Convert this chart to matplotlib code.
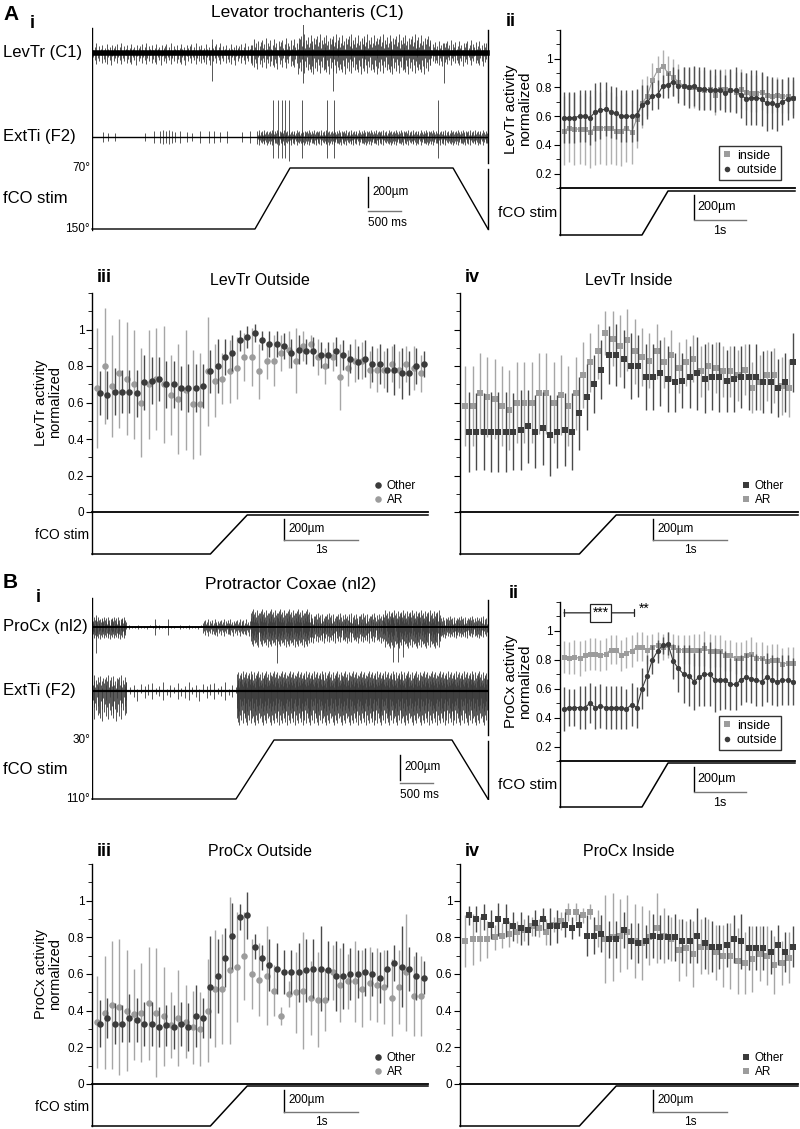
import numpy as np
import matplotlib
matplotlib.use('Agg')
import matplotlib.pyplot as plt
from matplotlib.lines import Line2D

plt.rcParams['font.family'] = ['Liberation Sans', 'DejaVu Sans']

# ---------------- data ----------------
# A iii  LevTr outside (Other = dark circles, AR = light circles)
levout_other = [0.65, 0.64, 0.66, 0.66, 0.66, 0.65, 0.71, 0.72, 0.73, 0.70,
                0.70, 0.68, 0.68, 0.68, 0.69, 0.77, 0.80, 0.85, 0.87, 0.94,
                0.96, 0.98, 0.94, 0.92, 0.92, 0.91, 0.87, 0.89, 0.88, 0.88,
                0.86, 0.86, 0.88, 0.86, 0.84, 0.82, 0.84, 0.81, 0.81, 0.78,
                0.78, 0.76, 0.76, 0.80, 0.81]
levout_other_err = [0.12, 0.13, 0.13, 0.12, 0.12, 0.13, 0.15, 0.13, 0.12, 0.13,
                    0.13, 0.12, 0.13, 0.13, 0.12, 0.12, 0.15, 0.10, 0.10, 0.06,
                    0.06, 0.05, 0.05, 0.07, 0.07, 0.07, 0.08, 0.08, 0.07, 0.08,
                    0.07, 0.07, 0.08, 0.08, 0.08, 0.09, 0.10, 0.10, 0.11, 0.12,
                    0.14, 0.14, 0.12, 0.10, 0.07]
levout_ar = [0.68, 0.80, 0.69, 0.76, 0.73, 0.70, 0.60, 0.70, 0.73, 0.70,
             0.64, 0.62, 0.67, 0.59, 0.59, 0.77, 0.72, 0.73, 0.77, 0.79,
             0.85, 0.85, 0.77, 0.83, 0.83, 0.87, 0.89, 0.83, 0.91, 0.92,
             0.85, 0.80, 0.85, 0.74, 0.79, 0.83, 0.83, 0.78, 0.78, 0.78,
             0.81, 0.78, 0.81, 0.79, 0.76]
levout_ar_err = [0.33, 0.32, 0.28, 0.30, 0.31, 0.30, 0.30, 0.30, 0.28, 0.32,
                 0.22, 0.30, 0.33, 0.30, 0.28, 0.30, 0.20, 0.14, 0.17, 0.17,
                 0.13, 0.16, 0.15, 0.10, 0.14, 0.10, 0.10, 0.18, 0.08, 0.05,
                 0.10, 0.10, 0.08, 0.18, 0.10, 0.12, 0.10, 0.10, 0.12, 0.10,
                 0.10, 0.10, 0.10, 0.12, 0.10]

# A iv  LevTr inside (squares)
levin_other = [0.44, 0.44, 0.44, 0.44, 0.44, 0.44, 0.44, 0.45, 0.47, 0.44,
               0.46, 0.42, 0.44, 0.45, 0.44, 0.54, 0.63, 0.70, 0.78, 0.86,
               0.86, 0.84, 0.80, 0.80, 0.74, 0.74, 0.76, 0.73, 0.71, 0.72,
               0.74, 0.76, 0.73, 0.74, 0.74, 0.72, 0.73, 0.74, 0.74, 0.74,
               0.71, 0.71, 0.68, 0.71, 0.82]
levin_other_err = [0.22, 0.21, 0.21, 0.22, 0.22, 0.22, 0.21, 0.22, 0.20, 0.20,
                   0.20, 0.22, 0.20, 0.20, 0.21, 0.20, 0.18, 0.16, 0.16, 0.16,
                   0.17, 0.16, 0.18, 0.17, 0.18, 0.18, 0.18, 0.18, 0.16, 0.15,
                   0.17, 0.20, 0.19, 0.18, 0.19, 0.17, 0.18, 0.17, 0.18, 0.18,
                   0.17, 0.17, 0.16, 0.16, 0.16]
levin_ar = [0.58, 0.58, 0.65, 0.63, 0.62, 0.58, 0.56, 0.60, 0.60, 0.60,
            0.65, 0.65, 0.60, 0.64, 0.58, 0.65, 0.75, 0.82, 0.88, 0.98,
            0.95, 0.91, 0.94, 0.88, 0.85, 0.83, 0.88, 0.82, 0.86, 0.79,
            0.82, 0.84, 0.77, 0.80, 0.79, 0.77, 0.77, 0.75, 0.78, 0.68,
            0.71, 0.75, 0.75, 0.69, 0.68]
levin_ar_err = [0.22, 0.22, 0.22, 0.22, 0.22, 0.22, 0.22, 0.22, 0.22, 0.22,
                0.22, 0.22, 0.22, 0.22, 0.22, 0.20, 0.18, 0.16, 0.15, 0.12,
                0.15, 0.17, 0.17, 0.18, 0.16, 0.15, 0.15, 0.14, 0.14, 0.14,
                0.13, 0.13, 0.14, 0.13, 0.14, 0.14, 0.14, 0.14, 0.14, 0.14,
                0.15, 0.14, 0.15, 0.16, 0.16]

# B iii  ProCx outside
proout_other = [0.33, 0.36, 0.33, 0.33, 0.36, 0.35, 0.33, 0.33, 0.31, 0.32,
                0.31, 0.33, 0.31, 0.37, 0.36, 0.53, 0.59, 0.69, 0.81, 0.91,
                0.92, 0.75, 0.69, 0.65, 0.63, 0.61, 0.61, 0.61, 0.62, 0.63,
                0.63, 0.62, 0.59, 0.59, 0.60, 0.60, 0.61, 0.60, 0.58, 0.63,
                0.66, 0.64, 0.63, 0.59, 0.58]
proout_other_err = [0.13, 0.11, 0.11, 0.10, 0.13, 0.12, 0.12, 0.12, 0.11, 0.11,
                    0.12, 0.12, 0.13, 0.17, 0.11, 0.28, 0.20, 0.16, 0.18, 0.07,
                    0.13, 0.07, 0.07, 0.14, 0.14, 0.12, 0.12, 0.16, 0.17, 0.16,
                    0.23, 0.16, 0.19, 0.18, 0.14, 0.13, 0.13, 0.12, 0.14, 0.10,
                    0.10, 0.22, 0.12, 0.13, 0.09]
proout_ar = [0.34, 0.39, 0.43, 0.42, 0.40, 0.38, 0.39, 0.44, 0.39, 0.37,
             0.32, 0.36, 0.34, 0.31, 0.30, 0.40, 0.52, 0.52, 0.62, 0.64,
             0.70, 0.60, 0.57, 0.59, 0.51, 0.37, 0.49, 0.50, 0.51, 0.47,
             0.46, 0.46, 0.61, 0.54, 0.56, 0.56, 0.52, 0.55, 0.54, 0.53,
             0.47, 0.53, 0.61, 0.48, 0.48]
proout_ar_err = [0.25, 0.31, 0.35, 0.37, 0.33, 0.25, 0.27, 0.31, 0.35, 0.27,
                 0.18, 0.26, 0.20, 0.20, 0.20, 0.28, 0.32, 0.30, 0.40, 0.30,
                 0.24, 0.19, 0.20, 0.27, 0.14, 0.05, 0.07, 0.22, 0.32, 0.20,
                 0.26, 0.17, 0.15, 0.20, 0.15, 0.22, 0.21, 0.20, 0.20, 0.20,
                 0.21, 0.20, 0.32, 0.22, 0.22]

# B iv  ProCx inside
proin_other = [0.92, 0.90, 0.91, 0.87, 0.90, 0.89, 0.86, 0.85, 0.84, 0.88,
               0.90, 0.86, 0.86, 0.87, 0.85, 0.87, 0.81, 0.81, 0.82, 0.79,
               0.79, 0.84, 0.78, 0.77, 0.78, 0.81, 0.80, 0.80, 0.80, 0.78,
               0.78, 0.81, 0.77, 0.75, 0.75, 0.76, 0.79, 0.78, 0.74, 0.74,
               0.74, 0.72, 0.76, 0.72, 0.75]
proin_other_err = [0.05, 0.07, 0.07, 0.08, 0.09, 0.09, 0.08, 0.09, 0.08, 0.07,
                   0.06, 0.10, 0.09, 0.07, 0.06, 0.06, 0.11, 0.10, 0.10, 0.10,
                   0.10, 0.10, 0.10, 0.11, 0.09, 0.12, 0.12, 0.12, 0.13, 0.12,
                   0.12, 0.15, 0.14, 0.14, 0.12, 0.12, 0.13, 0.15, 0.12, 0.12,
                   0.12, 0.12, 0.11, 0.11, 0.11]
proin_ar = [0.78, 0.79, 0.79, 0.79, 0.80, 0.81, 0.82, 0.83, 0.84, 0.86,
            0.85, 0.83, 0.87, 0.89, 0.94, 0.94, 0.92, 0.94, 0.85, 0.79,
            0.80, 0.81, 0.83, 0.78, 0.77, 0.80, 0.85, 0.81, 0.79, 0.73,
            0.74, 0.71, 0.75, 0.75, 0.72, 0.70, 0.70, 0.67, 0.66, 0.68,
            0.71, 0.70, 0.65, 0.66, 0.69]
proin_ar_err = [0.14, 0.14, 0.12, 0.10, 0.07, 0.07, 0.07, 0.06, 0.06, 0.05,
                0.05, 0.07, 0.04, 0.05, 0.05, 0.05, 0.04, 0.04, 0.10, 0.24,
                0.24, 0.20, 0.20, 0.20, 0.20, 0.15, 0.19, 0.15, 0.12, 0.17,
                0.15, 0.18, 0.15, 0.15, 0.15, 0.17, 0.18, 0.18, 0.17, 0.18,
                0.15, 0.16, 0.16, 0.12, 0.14]

# A ii  LevTr inside / outside
levii_in = [0.50, 0.52, 0.51, 0.51, 0.51, 0.49, 0.52, 0.52, 0.52, 0.52,
            0.50, 0.50, 0.52, 0.49, 0.58, 0.69, 0.74, 0.85, 0.92, 0.95,
            0.90, 0.87, 0.84, 0.81, 0.80, 0.80, 0.79, 0.78, 0.79, 0.75,
            0.79, 0.79, 0.78, 0.77, 0.79, 0.77, 0.76, 0.76, 0.77, 0.75,
            0.74, 0.75, 0.74, 0.74, 0.73]
levii_in_err = [0.24, 0.24, 0.25, 0.24, 0.25, 0.25, 0.26, 0.25, 0.26, 0.25,
                0.24, 0.25, 0.24, 0.22, 0.20, 0.17, 0.14, 0.12, 0.10, 0.11,
                0.12, 0.13, 0.12, 0.13, 0.13, 0.14, 0.13, 0.14, 0.14, 0.14,
                0.14, 0.14, 0.14, 0.14, 0.14, 0.13, 0.13, 0.13, 0.13, 0.13,
                0.12, 0.12, 0.12, 0.12, 0.12]
levii_out = [0.59, 0.59, 0.59, 0.60, 0.60, 0.59, 0.63, 0.64, 0.65, 0.63,
             0.62, 0.60, 0.60, 0.60, 0.61, 0.68, 0.70, 0.74, 0.75, 0.81,
             0.82, 0.84, 0.81, 0.81, 0.80, 0.81, 0.79, 0.79, 0.78, 0.78,
             0.78, 0.76, 0.78, 0.78, 0.75, 0.72, 0.73, 0.73, 0.72, 0.69,
             0.69, 0.68, 0.70, 0.72, 0.73]
levii_out_err = [0.18, 0.18, 0.18, 0.18, 0.18, 0.19, 0.20, 0.20, 0.19, 0.18,
                 0.18, 0.18, 0.18, 0.18, 0.18, 0.14, 0.12, 0.10, 0.10, 0.08,
                 0.09, 0.10, 0.12, 0.13, 0.14, 0.14, 0.15, 0.15, 0.14, 0.15,
                 0.14, 0.13, 0.15, 0.16, 0.16, 0.18, 0.19, 0.19, 0.19, 0.19,
                 0.18, 0.18, 0.16, 0.15, 0.14]

# B ii  ProCx inside / outside
proii_in = [0.82, 0.81, 0.82, 0.81, 0.83, 0.84, 0.84, 0.83, 0.84, 0.87,
            0.87, 0.83, 0.85, 0.86, 0.89, 0.89, 0.87, 0.89, 0.90, 0.89,
            0.90, 0.89, 0.87, 0.87, 0.87, 0.87, 0.87, 0.88, 0.86, 0.86,
            0.86, 0.83, 0.83, 0.81, 0.81, 0.83, 0.84, 0.81, 0.81, 0.79,
            0.80, 0.80, 0.77, 0.78, 0.78]
proii_in_err = [0.11, 0.11, 0.12, 0.12, 0.11, 0.11, 0.11, 0.11, 0.11, 0.10,
                0.10, 0.11, 0.11, 0.11, 0.10, 0.10, 0.10, 0.09, 0.09, 0.09,
                0.09, 0.09, 0.10, 0.10, 0.10, 0.11, 0.11, 0.12, 0.12, 0.11,
                0.11, 0.11, 0.11, 0.11, 0.11, 0.11, 0.12, 0.11, 0.11, 0.11,
                0.11, 0.11, 0.11, 0.11, 0.11]
proii_out = [0.46, 0.47, 0.47, 0.47, 0.47, 0.50, 0.47, 0.48, 0.47, 0.47,
             0.47, 0.47, 0.46, 0.49, 0.47, 0.60, 0.69, 0.80, 0.86, 0.90,
             0.91, 0.79, 0.74, 0.70, 0.69, 0.65, 0.68, 0.70, 0.70, 0.66,
             0.66, 0.66, 0.63, 0.63, 0.66, 0.68, 0.67, 0.66, 0.65, 0.68,
             0.66, 0.65, 0.66, 0.66, 0.65]
proii_out_err = [0.15, 0.13, 0.13, 0.15, 0.15, 0.14, 0.15, 0.15, 0.15, 0.15,
                 0.15, 0.15, 0.14, 0.15, 0.14, 0.14, 0.14, 0.10, 0.08, 0.06,
                 0.08, 0.12, 0.16, 0.20, 0.21, 0.20, 0.20, 0.22, 0.22, 0.22,
                 0.21, 0.20, 0.18, 0.18, 0.17, 0.17, 0.17, 0.18, 0.17, 0.17,
                 0.17, 0.17, 0.17, 0.17, 0.16]

bin_s = 0.1                 # bin width (s)
ramp_s = (1.5, 2.0)         # fCO ramp start / end (s, relative to first bin)

# raw recordings: dense stretches (start ms, end ms, spike spacing ms, up px, down px)
levtr_dense = [(0, 2400, 22, 10, 12), (2400, 3100, 18, 15, 16),
               (3100, 5100, 14, 19, 21), (5100, 5960, 18, 13, 13)]
levtr_single = [(1810, 14, 28), (3185, 35, 30), (3640, 12, 38), (5300, 10, 30)]
extA_dense = [(2490, 5960, 11, 7, 8)]
extA_single = [(171, 5, 5), (247, 4, 4), (348, 4, 4), (801, 4, 4), (938, 6, 6),
               (1028, 6, 6), (1069, 7, 7), (1114, 6, 6), (1154, 7, 7), (1205, 6, 6),
               (1255, 5, 5), (1331, 6, 6), (1432, 5, 5), (1507, 4, 4), (1633, 6, 6),
               (1759, 6, 6), (1835, 6, 6), (1935, 5, 5), (2036, 6, 6), (2263, 5, 5),
               (2379, 6, 6), (2732, 37, 21), (2802, 37, 21), (2868, 37, 21),
               (2908, 37, 21), (2969, 37, 24), (3170, 37, 21), (3548, 37, 21),
               (3649, 37, 21), (5211, 37, 21)]
procx_dense = [(0, 520, 9, 10, 12), (560, 1680, 45, 2, 2), (1680, 2390, 14, 8, 9),
               (2390, 3300, 8, 18, 20), (3300, 4400, 10, 14, 16),
               (4400, 5250, 8, 17, 21), (5250, 5960, 10, 11, 11)]
procx_single = [(60, 12, 26), (952, 8, 8), (1150, 8, 8), (2792, 10, 36),
                (4531, 8, 35), (4607, 8, 35), (4683, 8, 30)]
extB_dense = [(0, 520, 12, 16, 30), (520, 2180, 55, 9, 10), (2180, 5960, 7, 20, 34)]
extB_single = []
# relative spike heights cycled along each dense stretch
spike_shape = [0.9, 0.35, 0.6, 1.0, 0.25, 0.7, 0.45, 0.85, 0.3, 0.55,
               0.95, 0.4, 0.65, 0.2, 0.8, 0.5, 0.75]

stimA_ms = [0, 2457, 2985, 5443, 5970]
stimA_deg = [150, 150, 70, 70, 150]
stimB_ms = [0, 2171, 2744, 5427, 5970]
stimB_deg = [110, 110, 30, 30, 110]

# ---------------- figure ----------------
W, H = 800, 1129
fig = plt.figure(figsize=(W / 100, H / 100), dpi=100)
DARK = '#3b3b3b'
LIGHT = '#9c9c9c'


def rect(l, t, r, b):
    return [l / W, 1 - b / H, (r - l) / W, (b - t) / H]


def ftext(x, y, s, **kw):
    fig.text(x / W, 1 - y / H, s, **kw)


def spikes(ax, base, dense, single, base_lw):
    xs, top, bot = [], [], []
    k = 0
    for t0, t1, step, up, down in dense:
        for t in np.arange(t0, t1, step):
            xs.append(t)
            top.append(base - up * spike_shape[k % len(spike_shape)])
            bot.append(base + down * spike_shape[(k + 7) % len(spike_shape)])
            k += 1
    for t, up, down in single:
        xs.append(t)
        top.append(base - up)
        bot.append(base + down)
    ax.vlines(xs, top, bot, color='#3a3a3a', lw=0.6)
    ax.plot([0, 5960], [base, base], color='k', lw=base_lw)


def trace_panel(top, bottom, bases, recs, base_lws, stim_top, stim_bot, stim_ms,
                stim_deg, labels, deg_labels, bar):
    ax = fig.add_axes(rect(92, top, 490, bottom))
    ax.set_xlim(0, 6000)
    ax.set_ylim(bottom, top)
    ax.axis('off')
    for base, (dense, single), blw in zip(bases, recs, base_lws):
        spikes(ax, base, dense, single, blw)
    ax.plot([0, 0], [top + 3, stim_bot + 1], color='k', lw=1)
    ax.plot([5970, 5970], [top + 5, stim_top - 5], color='k', lw=1)
    ax.plot([5970, 5970], [stim_top + 1, stim_bot], color='k', lw=1)
    sa = fig.add_axes(rect(92, stim_top, 490, stim_bot))
    sa.set_xlim(0, 6000)
    sa.set_ylim(stim_deg[0], stim_deg[2])
    sa.axis('off')
    sa.plot(stim_ms, stim_deg, color='k', lw=1, clip_on=False)
    for (lab, y) in zip(labels, bases + [(stim_top + stim_bot) / 2]):
        ftext(3, y, lab, fontsize=12, va='center')
    ftext(90, stim_top, deg_labels[0], fontsize=8.5, ha='right', va='center')
    ftext(90, stim_bot, deg_labels[1], fontsize=8.5, ha='right', va='center')
    x0, vt, vb, hy = bar
    ax.plot([x0, x0], [vt, vb], color='k', lw=1)
    ax.plot([x0, x0 + 500], [hy, hy], color='#777777', lw=1)
    ax.text(x0 + 70, (vt + vb) / 2, '200µm', fontsize=8.5, va='center')
    ax.text(x0, hy + 12, '500 ms', fontsize=8.5, va='center')


major = [0, 0.2, 0.4, 0.6, 0.8, 1.0]
minor = [0.1, 0.3, 0.5, 0.7, 0.9, 1.1, 1.2]


def style_main(ax, ymin, show_labels=True):
    for s in ('top', 'right'):
        ax.spines[s].set_visible(False)
    ax.spines['left'].set_linewidth(1.0)
    ax.spines['bottom'].set_linewidth(1.3)
    ticks = [v for v in major if v >= ymin]
    ax.set_yticks(ticks)
    ax.set_yticks(minor, minor=True)
    ax.set_yticklabels([f'{v:g}' for v in ticks] if show_labels else [])
    ax.set_ylim(ymin, 1.2)
    ax.tick_params(axis='y', which='major', length=4, labelsize=8.5, pad=1.5)
    ax.tick_params(axis='y', which='minor', length=3)
    ax.set_xticks([])


def stim_panel(l, r, axis_y, top_y, bot_y, xlim, bar_t=2.5, fs=8.5):
    ax = fig.add_axes(rect(l, axis_y, r, bot_y))
    h = bot_y - top_y
    ax.set_xlim(*xlim)
    ax.set_ylim(0, (bot_y - axis_y) / h)
    ax.axis('off')
    ax.plot([xlim[0], ramp_s[0], ramp_s[1], xlim[1]], [0, 0, 1, 1],
            color='k', lw=1.1, clip_on=False)
    ax.plot([xlim[0], xlim[0]], [0, (bot_y - axis_y) / h], color='k', lw=1,
            clip_on=False)
    ax.plot([bar_t, bar_t], [0.36, 0.9], color='k', lw=1)
    ax.plot([bar_t, bar_t + 1], [0.35, 0.35], color='#777777', lw=1)
    ax.text(bar_t + 0.06, 0.64, '200µm', fontsize=fs, va='center')
    ax.text(bar_t + 0.5, 0.1, '1s', fontsize=fs, ha='center', va='center')
    return ax


def scatter_panel(l, t, r, b, stim_top, stim_bot, other, other_err, ar, ar_err,
                  marker, ar_shift, first_px, title, ylabel, show_labels,
                  leg_xy):
    ms = 4.7 if marker == 'o' else 4.4
    ax = fig.add_axes(rect(l, t, r, b))
    pxs = 73.6
    xlim = (-(first_px - l) / pxs, (r - first_px) / pxs)
    tt = np.arange(len(other)) * bin_s
    ax.errorbar(tt + ar_shift, ar, yerr=ar_err, fmt=marker, color=LIGHT,
                ecolor='#a6a6a6', ms=ms, mew=0, capsize=2.8, elinewidth=1,
                capthick=1, clip_on=False, zorder=2)
    ax.errorbar(tt, other, yerr=other_err, fmt=marker, color=DARK,
                ecolor='#4a4a4a', ms=ms, mew=0, capsize=2.8, elinewidth=1,
                capthick=1, clip_on=False, zorder=3)
    ax.set_xlim(*xlim)
    style_main(ax, 0, show_labels)
    ax.set_title(title, fontsize=11.5, pad=6)
    if ylabel:
        ax.set_ylabel(ylabel, fontsize=10.5, linespacing=1.0, labelpad=4)
    hs = [Line2D([], [], ls='none', marker=marker, color=DARK, ms=ms, mew=0),
          Line2D([], [], ls='none', marker=marker, color=LIGHT, ms=ms, mew=0)]
    ax.legend(hs, ['Other', 'AR'], loc='upper left', frameon=False,
              bbox_to_anchor=(leg_xy[0] / W, 1 - leg_xy[1] / H),
              bbox_transform=fig.transFigure, fontsize=8.5, handlelength=0.6,
              handletextpad=0.5, labelspacing=0.15, borderpad=0, borderaxespad=0)
    stim_panel(l, r, b, stim_top, stim_bot, xlim)
    return ax


def mean_panel(t, b, stim_top, stim_bot, inside, inside_err, outside, outside_err,
               ylabel, leg_y):
    l, r = 560, 795
    pxs = 52.0
    first_px = 564
    xlim = (-(first_px - l) / pxs, (r - first_px) / pxs)
    ax = fig.add_axes(rect(l, t, r, b))
    tt = np.arange(len(inside)) * bin_s
    ax.errorbar(tt, inside, yerr=inside_err, fmt='s-', color=LIGHT,
                ecolor='#b0b0b0', ms=3.6, mew=0, lw=0.8, capsize=2, elinewidth=1,
                capthick=1, zorder=2)
    ax.errorbar(tt, outside, yerr=outside_err, fmt='o-', color=DARK,
                ecolor='#505050', ms=3.8, mew=0, lw=0.8, capsize=2, elinewidth=1,
                capthick=1, zorder=3)
    ax.set_xlim(*xlim)
    style_main(ax, 0.1, True)
    ax.set_ylabel(ylabel, fontsize=11, linespacing=1.0, labelpad=3)
    hs = [Line2D([], [], ls='none', marker='s', color=LIGHT, ms=4, mew=0),
          Line2D([], [], ls='none', marker='o', color=DARK, ms=4, mew=0)]
    leg = ax.legend(hs, ['inside', 'outside'], loc='lower right',
                    bbox_to_anchor=(0.94, leg_y), fontsize=9, frameon=True,
                    fancybox=False, edgecolor='#333333', framealpha=1,
                    handlelength=0.6, handletextpad=0.5, labelspacing=0.2,
                    borderpad=0.3, borderaxespad=0)
    leg.get_frame().set_linewidth(1)
    stim_panel(l, r, b, stim_top, stim_bot, xlim, fs=9)
    ftext(498, (stim_top + stim_bot) / 2, 'fCO stim', fontsize=11, va='center')
    return ax


# ---------------- A ----------------
ftext(3, 15, 'A', fontsize=15, fontweight='bold', va='center')
ftext(30, 23, 'i', fontsize=13, fontweight='bold', va='center')
ftext(307, 12, 'Levator trochanteris (C1)', fontsize=12.5, ha='center', va='center')
trace_panel(25, 232, [53, 137],
            [(levtr_dense, levtr_single), (extA_dense, extA_single)], [4.0, 1.0],
            168, 229, stimA_ms, stimA_deg,
            ['LevTr (C1)', 'ExtTi (F2)', 'fCO stim'], ['70°', '150°'],
            (4161, 177, 207, 211))

ftext(506, 21, 'ii', fontsize=13, fontweight='bold', va='center')
mean_panel(30, 188, 191, 235, levii_in, levii_in_err, levii_out, levii_out_err,
           'LevTr activity\nnormalized', 0.05)

ftext(97, 278, 'iii', fontsize=13, fontweight='bold', va='center')
ftext(465, 277, 'iv', fontsize=13, fontweight='bold', va='center')
scatter_panel(92, 293, 428, 512, 515, 554, levout_other, levout_other_err,
              levout_ar, levout_ar_err, 'o', -0.037, 100, 'LevTr Outside',
              'LevTr activity\nnormalized', True, (374, 480))
ftext(35, 535, 'fCO stim', fontsize=10, va='center')
scatter_panel(460, 293, 798, 512, 515, 554, levin_other, levin_other_err,
              levin_ar, levin_ar_err, 's', -0.05, 469, 'LevTr Inside',
              None, False, (742, 480))

# ---------------- B ----------------
ftext(3, 583, 'B', fontsize=15, fontweight='bold', va='center')
ftext(36, 598, 'i', fontsize=13, fontweight='bold', va='center')
ftext(291, 584, 'Protractor Coxae (nl2)', fontsize=12.5, ha='center', va='center')
trace_panel(595, 800, [627, 691],
            [(procx_dense, procx_single), (extB_dense, extB_single)], [1.4, 1.6],
            740, 799, stimB_ms, stimB_deg,
            ['ProCx (nl2)', 'ExtTi (F2)', 'fCO stim'], ['30°', '110°'],
            (4645, 755, 780, 783))

ftext(509, 593, 'ii', fontsize=13, fontweight='bold', va='center')
axBii = mean_panel(602, 761, 763, 807, proii_in, proii_in_err, proii_out,
                   proii_out_err, 'ProCx activity\nnormalized', 0.07)
# significance markers
axBii.annotate('', xy=(0.0, 1.125), xytext=(1.35, 1.125),
               arrowprops=dict(arrowstyle='|-|', lw=0.9, color='#222222',
                               mutation_scale=2.5, shrinkA=0, shrinkB=0),
               annotation_clip=False)
axBii.text(0.7, 1.125, '***', fontsize=10, ha='center', va='center',
           bbox=dict(boxstyle='square,pad=0.15', fc='white', ec='#222222', lw=0.9))
axBii.text(1.55, 1.15, '**', fontsize=10, ha='center', va='center')

ftext(97, 852, 'iii', fontsize=13, fontweight='bold', va='center')
ftext(465, 851, 'iv', fontsize=13, fontweight='bold', va='center')
scatter_panel(92, 864, 428, 1084, 1086, 1126, proout_other, proout_other_err,
              proout_ar, proout_ar_err, 'o', -0.037, 100, 'ProCx Outside',
              'ProCx activity\nnormalized', True, (374, 1052))
ftext(35, 1107, 'fCO stim', fontsize=10, va='center')
scatter_panel(460, 864, 798, 1084, 1086, 1126, proin_other, proin_other_err,
              proin_ar, proin_ar_err, 's', -0.05, 469, 'ProCx Inside',
              None, True, (742, 1052))

fig.savefig('out.png', dpi=100, facecolor='white')
